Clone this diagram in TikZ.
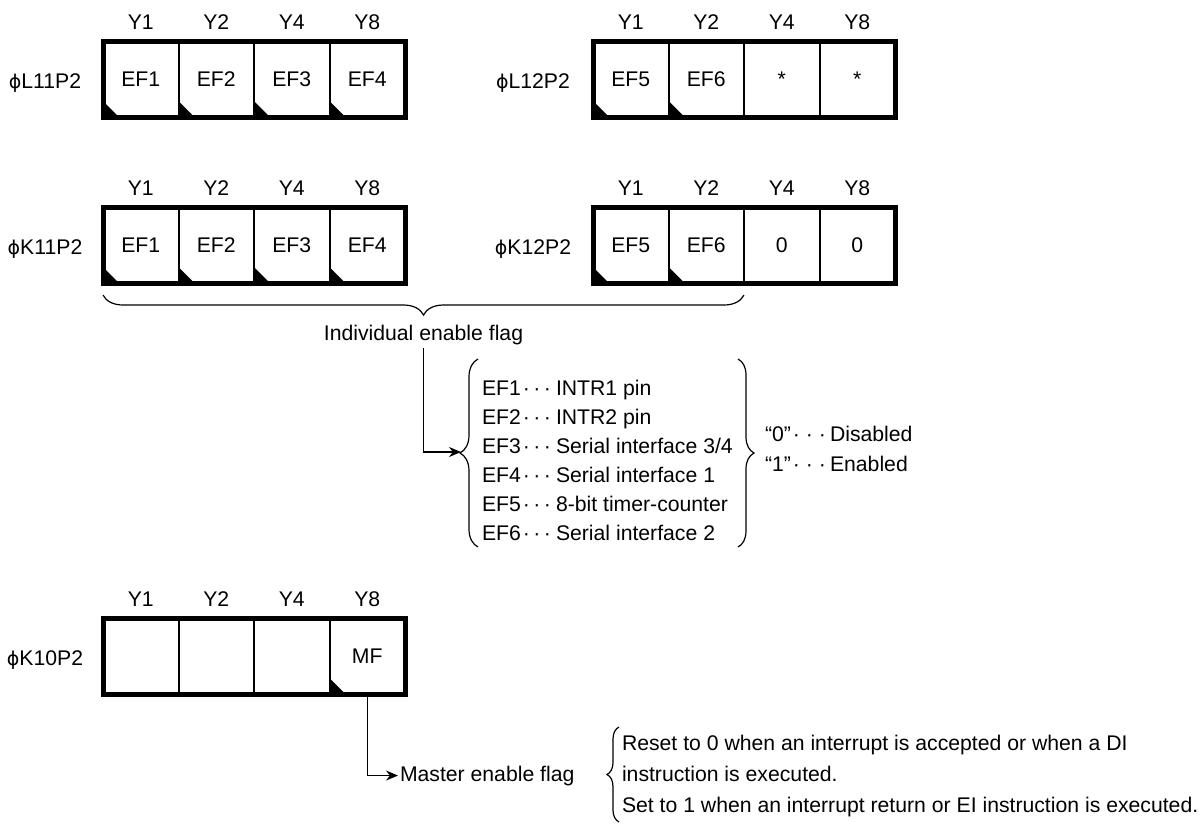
\documentclass[tikz,border=0pt]{standalone}
\usepackage{fontspec}
\setmainfont{Liberation Sans}
\newfontfamily\phifont{DejaVu Sans}
\usetikzlibrary{arrows.meta,decorations.pathreplacing,calc}

\newcommand{\phisym}{{\phifont\fontsize{19pt}{23pt}\selectfont ϕ}}
\newcommand{\myreg}[6]{% #1 name, #2 x-left, #3 y-top, #4 label text, #5 label x, #6 list text/flag/ylabel
  \foreach \t/\f/\yl [count=\i] in {#6} {
    \node[cell] (#1c\i) at ({#2+(\i-1)*75.5},#3) {\t};
    \node[ylab] (#1y\i) at ({#2+(\i-0.5)*75.5},{#3-11.5}) {\yl};
    \ifnum\f=1
      \fill (#1c\i.south west) -- ++(0,-16) -- ++(16,16) -- cycle;
    \fi
  }
  \draw[line width=5pt] (#1c1.north west) rectangle (#1c4.south east);
  \node[reglab] (#1lab) at (#5,{#3+47}) {\phisym#4};
}
\newcommand{\tdots}[1]{\makebox[#1][s]{\textperiodcentered\hfill\textperiodcentered\hfill\textperiodcentered}}

\begin{document}
\begin{tikzpicture}[x=1pt,y=-1pt,
  every node/.style={font=\fontsize{21.2pt}{25pt}\selectfont, inner sep=0pt, outer sep=0pt},
  cell/.style={draw, line width=2pt, minimum width=75.5pt, minimum height=76pt,
    anchor=north west, text height=15.2pt, text depth=0pt},
  ylab/.style={anchor=base},
  reglab/.style={anchor=base},
  txt/.style={anchor=base west},
  conn/.style={line width=1.2pt, -{Stealth[length=12pt,width=10pt]}},
  mybrace/.style={decorate, decoration={brace, amplitude=#1}, line width=1.2pt}
]
\useasboundingbox (0,0) rectangle (1199,823);

% registers
\myreg{L11}{103}{41}{L11P2}{45}{EF1/1/Y1,EF2/1/Y2,EF3/1/Y4,EF4/1/Y8}
\myreg{L12}{593}{41}{L12P2}{533}{EF5/1/Y1,EF6/1/Y2,*/0/Y4,*/0/Y8}
\myreg{K11}{103}{207}{K11P2}{45}{EF1/1/Y1,EF2/1/Y2,EF3/1/Y4,EF4/1/Y8}
\myreg{K12}{593}{207}{K12P2}{533}{EF5/1/Y1,EF6/1/Y2,0/0/Y4,0/0/Y8}
\myreg{K10}{103}{618}{K10P2}{45}{/0/Y1,/0/Y2,/0/Y4,MF/1/Y8}

% individual enable flag brace
\draw[mybrace=20pt, decoration={mirror}] ([yshift=-12pt]K11c1.south west) -- ([yshift=-12pt]K12c2.south east);
\node[anchor=base] (indiv) at (423.5,340) {Individual enable flag};

% list braces
\draw[mybrace=18pt] (478,547) -- (478,359);
\draw[mybrace=16pt] (738,359) -- (738,547);
\coordinate (lbtip) at (461,452);
\draw[conn] ([yshift=-4pt]indiv.south) |- (lbtip);

\node[txt] (e1) at (482,395) {EF1};
\node[txt] (e2) at (482,424) {EF2};
\node[txt] (e3) at (482,453) {EF3};
\node[txt] (e4) at (482,482) {EF4};
\node[txt] (e5) at (482,511) {EF5};
\node[txt] (e6) at (482,540) {EF6};
\foreach \k in {1,...,6} {
  \node[txt] (d\k) at ([xshift=2pt]e\k.base east) {\tdots{28pt}};
}
\node[txt] (t1) at (556,395) {INTR1 pin};
\node[txt] (t2) at (556,424) {INTR2 pin};
\node[txt] (t3) at (556,453) {Serial interface 3/4};
\node[txt] (t4) at (556,482) {Serial interface 1};
\node[txt] (t5) at (556,511) {8-bit timer-counter};
\node[txt] (t6) at (556,540) {Serial interface 2};

\node[txt] (v0) at (765,441) {“0”};
\node[txt] (v1) at (765,471) {“1”};
\node[txt] (dv0) at ([xshift=2pt]v0.base east) {\tdots{33pt}};
\node[txt] (dv1) at ([xshift=2pt]v1.base east) {\tdots{33pt}};
\node[txt] (s0) at (830,441) {Disabled};
\node[txt] (s1) at (830,471) {Enabled};

% master enable flag
\node[txt] (master) at (400,781) {Master enable flag};
\draw[conn] (K10c4.south) |- ([xshift=-2pt]master.west);
\draw[mybrace=12pt] (619,822) -- (619,727);
\node[txt] (m1) at (622,750) {Reset to 0 when an interrupt is accepted or when a DI};
\node[txt] (m2) at (622,781) {instruction is executed.};
\node[txt] (m3) at (622,812) {Set to 1 when an interrupt return or EI instruction is executed.};
\end{tikzpicture}
\end{document}
